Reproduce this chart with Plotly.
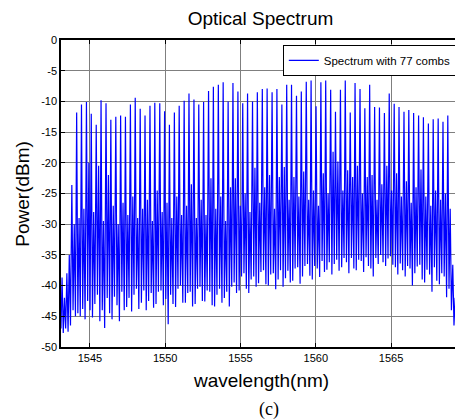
import plotly.graph_objects as go

# ---- data ----
# comb line wavelengths (nm): 3 weak lines at the left edge, 77 combs, 2 weak lines at the right edge
comb_wl = [1543.15, 1543.47, 1543.80,
           1544.12, 1544.44, 1544.77, 1545.09, 1545.42, 1545.74, 1546.07, 1546.39, 1546.72, 1547.04,
           1547.36, 1547.69, 1548.01, 1548.34, 1548.66, 1548.99, 1549.31, 1549.64, 1549.96, 1550.28,
           1550.61, 1550.93, 1551.26, 1551.58, 1551.91, 1552.23, 1552.55, 1552.88, 1553.20, 1553.53,
           1553.85, 1554.18, 1554.50, 1554.83, 1555.15, 1555.47, 1555.80, 1556.12, 1556.45, 1556.77,
           1557.10, 1557.42, 1557.75, 1558.07, 1558.39, 1558.72, 1559.04, 1559.37, 1559.69, 1560.02,
           1560.34, 1560.66, 1560.99, 1561.31, 1561.64, 1561.96, 1562.29, 1562.61, 1562.94, 1563.26,
           1563.58, 1563.91, 1564.23, 1564.56, 1564.88, 1565.21, 1565.53, 1565.86, 1566.18, 1566.50,
           1566.83, 1567.15, 1567.48, 1567.80, 1568.13, 1568.45, 1568.77,
           1569.10, 1569.42]

# comb peak power (dBm)
peak_dbm = [-38.7, -38.0, -23.6,
            -11.8, -10.5, -10.1, -12.0, -13.8, -9.8, -10.3, -13.0, -12.5, -12.3,
            -12.5, -10.5, -9.4, -11.2, -12.3, -10.7, -10.2, -10.3, -11.6,
            -13.8, -11.8, -10.7, -9.9, -8.7, -9.7, -10.5, -10.1, -8.3, -7.6,
            -7.3, -6.9, -10.0, -7.0, -8.4, -10.3, -8.7, -10.0, -8.5, -8.0,
            -7.9, -8.5, -8.0, -10.5, -7.3, -7.3, -9.1, -8.4, -6.8, -6.6, -10.8,
            -6.9, -6.6, -8.1, -11.7, -8.1, -6.6, -11.8, -7.0, -8.0, -11.1,
            -7.3, -10.9, -11.0, -11.9, -8.7, -10.4, -10.9, -11.7, -11.4, -11.9,
            -12.3, -12.6, -13.6, -12.9, -12.8, -13.3, -12.3,
            -36.6, -37.6]

# floor just after each comb (dBm)
dip1_dbm = [-47.7, -47.5, -44.0,
            -44.5, -43.8, -42.5, -45.2, -41.5, -44.0, -42.0, -45.5, -43.2, -41.0,
            -43.5, -44.2, -40.5, -42.8, -44.0, -41.2, -43.0, -40.8, -42.2, -41.5,
            -43.5, -40.0, -42.8, -41.0, -43.0, -40.2, -42.6, -41.0, -43.4, -40.5,
            -42.0, -43.4, -39.5, -40.8, -38.0, -41.2, -38.5, -39.6, -37.5, -40.0,
            -38.0, -39.0, -40.2, -37.6, -39.2, -37.0, -38.5, -36.5, -39.0, -37.2,
            -36.0, -37.4, -38.2, -35.8, -37.0, -36.2, -35.5, -37.5, -36.0, -35.4,
            -37.2, -35.5, -35.0, -36.8, -35.2, -37.0, -36.4, -38.5, -37.2, -38.0,
            -36.6, -39.5, -38.2, -37.0, -39.8, -38.5, -40.5,
            -46.5, -47.8]

# secondary (side) line between combs (dBm)
side_dbm = [-42.0, -35.0, -30.0,
            -29.0, -27.5, -20.0, -28.0, -20.5, -29.5, -22.0, -27.0, -30.0, -26.5,
            -28.5, -25.5, -29.0, -27.5, -26.0, -29.5, -24.5, -28.0, -26.5, -29.0,
            -25.5, -28.5, -27.0, -23.5, -29.0, -26.0, -28.5, -22.5, -27.5, -25.5,
            -29.5, -24.0, -22.5, -27.0, -25.0, -28.0, -20.8, -26.5, -24.0, -22.0,
            -27.5, -22.3, -20.7, -26.0, -22.3, -25.5, -21.4, -26.0, -24.5, -27.0,
            -21.7, -25.0, -18.2, -19.8, -24.5, -21.2, -22.3, -20.5, -25.0, -22.3,
            -22.0, -26.0, -23.5, -20.5, -24.5, -21.7, -25.5, -23.0, -26.5, -24.0,
            -21.1, -25.5, -27.0, -24.5, -26.0, -25.0, -27.5,
            -42.0, -44.0]

# floor just before the next comb (dBm)
dip2_dbm = [-47.0, -46.5, -45.0,
            -45.0, -45.5, -44.0, -43.0, -45.8, -46.9, -44.5, -41.8, -45.8, -44.0,
            -42.0, -41.5, -43.8, -40.8, -42.5, -43.6, -41.0, -43.2, -46.3, -43.0,
            -40.5, -42.8, -41.2, -43.4, -40.5, -42.5, -40.8, -43.2, -41.5, -42.8,
            -41.0, -40.2, -41.2, -38.5, -40.5, -39.0, -40.2, -37.8, -39.8, -38.2,
            -40.6, -37.5, -38.8, -39.5, -37.2, -39.7, -36.8, -38.4, -36.8, -38.6,
            -37.8, -36.2, -36.5, -37.6, -35.5, -38.0, -37.2, -35.8, -37.8, -36.8,
            -38.5, -36.5, -36.2, -35.6, -36.6, -38.2, -37.5, -36.8, -40.0, -36.9,
            -39.0, -37.4, -41.0, -39.2, -38.0, -41.9, -44.0,
            -47.5, -48.2]

start_wl, start_dbm = 1543.08, -47.0
# spectral offsets (nm) of the floor / side-line features from each comb line
dip1_off, side_off, dip2_off = 0.08, 0.16, 0.24

x_ticks = [1545, 1550, 1555, 1560, 1565]
y_ticks = [-50, -45, -40, -35, -30, -25, -20, -15, -10, -5, 0]

# ---- assemble the trace ----
wl = [start_wl]
pw = [start_dbm]
for w, p, d1, s, d2 in zip(comb_wl, peak_dbm, dip1_dbm, side_dbm, dip2_dbm):
    wl += [w, w + dip1_off, w + side_off, w + dip2_off]
    pw += [p, d1, s, d2]

font_family = "Liberation Sans, Arial, sans-serif"

# page body has an 8px margin: figure is sized/offset so that the plot lands where the reference has it
W, H = 455, 412
L, T, R, B = 53, 32, 1, 73
PW, PH = W - L - R, H - T - B

fig = go.Figure()
fig.add_trace(go.Scatter(x=wl, y=pw, mode="lines",
                         line=dict(color="#0000ff", width=1.2),
                         name="Spectrum with 77 combs"))

axis_common = dict(showline=True, linecolor="black", linewidth=1.5, mirror="ticks",
                   ticks="inside", ticklen=4, tickwidth=1, tickcolor="black",
                   showgrid=True, gridcolor="#7f7f7f", gridwidth=1,
                   zeroline=False, tickfont=dict(family=font_family, size=11, color="black"))

fig.update_layout(
    width=W, height=H,
    margin=dict(l=L, r=R, t=T, b=B),
    paper_bgcolor="white", plot_bgcolor="white",
    showlegend=True,
    legend=dict(x=0.992, y=0.984, xanchor="right", yanchor="top",
                bgcolor="white", bordercolor="black", borderwidth=1,
                font=dict(family=font_family, size=11.5, color="black")),
    title=dict(text="Optical Spectrum", x=0.5, xref="paper", xanchor="center",
               y=1 - 10 / H, yref="container", yanchor="middle",
               font=dict(family=font_family, size=19, color="black")),
    xaxis=dict(range=[1543.08, 1569.58], tickvals=x_ticks,
               ticktext=[str(v) for v in x_ticks], **axis_common),
    yaxis=dict(range=[-50, 0], tickvals=y_ticks,
               ticktext=[str(v) for v in y_ticks], **axis_common),
    annotations=[
        dict(text="wavelength(nm)", xref="paper", yref="paper", x=0.5, y=-33 / PH,
             xanchor="center", yanchor="middle", showarrow=False,
             font=dict(family=font_family, size=19, color="black")),
        dict(text="Power(dBm)", xref="paper", yref="paper", x=-39 / PW, y=0.5,
             xanchor="center", yanchor="middle", showarrow=False, textangle=-90,
             font=dict(family=font_family, size=19, color="black")),
        dict(text="(c)", xref="paper", yref="paper", x=(270 - 61) / PW, y=-62 / PH,
             xanchor="center", yanchor="middle", showarrow=False,
             font=dict(family="Liberation Serif, Times New Roman, serif", size=18, color="black")),
    ],
)

fig.write_html("out.html")
